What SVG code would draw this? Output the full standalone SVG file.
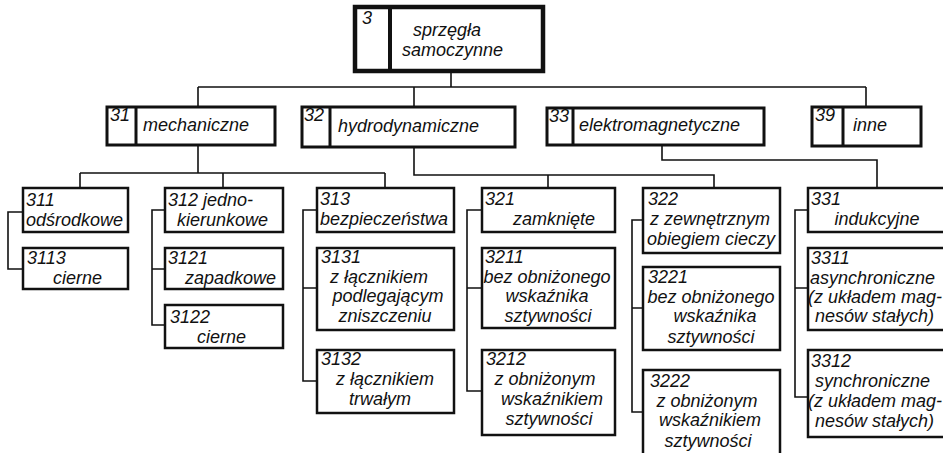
<svg xmlns="http://www.w3.org/2000/svg" width="943" height="453" viewBox="0 0 943 453">
<style>
.b{fill:#fff;stroke:#111;stroke-width:2.5}
.h{fill:#fff;stroke:#111;stroke-width:3}
.d{stroke:#111;stroke-width:3}
.c{fill:none;stroke:#111;stroke-width:1.6}
text{font-family:"Liberation Sans",Arial,sans-serif;font-style:italic;font-size:18px;fill:#111}
.m{text-anchor:middle}
</style>
<rect width="943" height="453" fill="#fff"/>
<g id="connectors">
<path class="c" d="M451,71V87M198,87H866M198,87V107M414,87V107M866,87V107"/>
<path class="c" d="M198,145V173M80,173H385M80,173V188M223,173V188M385,173V188"/>
<path class="c" d="M23,212H8V269H23"/>
<path class="c" d="M165,210H152V325H165M152,269H165"/>
<path class="c" d="M317,210H303V381H317M303,288H317"/>
<path class="c" d="M414,147V175H714V188M548,175V188"/>
<path class="c" d="M482,210H467V391H482M467,288H482"/>
<path class="c" d="M643,220H632V412H643M632,308H643"/>
<path class="c" d="M662,145V160H877V188"/>
<path class="c" d="M808,210H795V397H808M795,288H808"/>
</g>
<g id="n3">
<rect x="355" y="7" width="188" height="64" fill="#fff" stroke="#111" stroke-width="4.5"/>
<line x1="390" y1="7" x2="390" y2="71" stroke="#111" stroke-width="4"/>
<text x="362" y="24">3</text>
<text x="413" y="36">sprzęgła</text>
<text x="402" y="56">samoczynne</text>
</g>
<g id="n31">
<rect class="h" x="107" y="107" width="168" height="38"/>
<line class="d" x1="136" y1="107" x2="136" y2="145"/>
<text x="110" y="121">31</text>
<text x="143" y="131">mechaniczne</text>
</g>
<g id="n32">
<rect class="h" x="302" y="107" width="213" height="40"/>
<line class="d" x1="330" y1="107" x2="330" y2="147"/>
<text x="304" y="121">32</text>
<text x="338" y="132">hydrodynamiczne</text>
</g>
<g id="n33">
<rect class="h" x="547" y="108" width="217" height="37"/>
<line class="d" x1="573" y1="108" x2="573" y2="145"/>
<text x="549" y="122">33</text>
<text x="579" y="131">elektromagnetyczne</text>
</g>
<g id="n39">
<rect class="h" x="812" y="107" width="109" height="39"/>
<line class="d" x1="843" y1="107" x2="843" y2="146"/>
<text x="815" y="121">39</text>
<text x="853" y="131">inne</text>
</g>
<g id="n311">
<rect class="b" x="23" y="188" width="105" height="44"/>
<text x="26" y="206">311</text>
<text x="26" y="226">odśrodkowe</text>
</g>
<g id="n3113">
<rect class="b" x="23" y="248" width="105" height="41"/>
<text x="27" y="264">3113</text>
<text x="53" y="284">cierne</text>
</g>
<g id="n312">
<rect class="b" x="165" y="188" width="118" height="44"/>
<text x="168" y="206">312 jedno-</text>
<text x="177" y="226">kierunkowe</text>
</g>
<g id="n3121">
<rect class="b" x="165" y="248" width="118" height="41"/>
<text x="168" y="264">3121</text>
<text x="185" y="284">zapadkowe</text>
</g>
<g id="n3122">
<rect class="b" x="165" y="305" width="118" height="43"/>
<text x="170" y="323">3122</text>
<text x="197" y="343">cierne</text>
</g>
<g id="n313">
<rect class="b" x="317" y="188" width="137" height="44"/>
<text x="320" y="205">313</text>
<text x="320" y="225">bezpieczeństwa</text>
</g>
<g id="n3131">
<rect class="b" x="317" y="248" width="137" height="82"/>
<text x="321" y="263">3131</text>
<text class="m" x="379" y="283">z łącznikiem</text>
<text class="m" x="388" y="302">podlegającym</text>
<text class="m" x="385" y="322">zniszczeniu</text>
</g>
<g id="n3132">
<rect class="b" x="317" y="350" width="137" height="63"/>
<text x="321" y="365">3132</text>
<text class="m" x="385" y="385">z łącznikiem</text>
<text class="m" x="380" y="405">trwałym</text>
</g>
<g id="n321">
<rect class="b" x="482" y="188" width="133" height="44"/>
<text x="485" y="205">321</text>
<text class="m" x="554" y="225">zamknięte</text>
</g>
<g id="n3211">
<rect class="b" x="482" y="248" width="133" height="80"/>
<text x="485" y="263">3211</text>
<text class="m" x="547" y="283">bez obniżonego</text>
<text class="m" x="547" y="302">wskaźnika</text>
<text class="m" x="548" y="322">sztywności</text>
</g>
<g id="n3212">
<rect class="b" x="482" y="350" width="133" height="85"/>
<text x="486" y="365">3212</text>
<text class="m" x="545" y="385">z obniżonym</text>
<text class="m" x="552" y="405">wskaźnikiem</text>
<text class="m" x="549" y="425">sztywności</text>
</g>
<g id="n322">
<rect class="b" x="643" y="188" width="137" height="65"/>
<text x="648" y="205">322</text>
<text class="m" x="710" y="225">z zewnętrznym</text>
<text class="m" x="711" y="245">obiegiem cieczy</text>
</g>
<g id="n3221">
<rect class="b" x="643" y="267" width="137" height="83"/>
<text x="648" y="283">3221</text>
<text class="m" x="711" y="303">bez obniżonego</text>
<text class="m" x="715" y="322">wskaźnika</text>
<text class="m" x="711" y="343">sztywności</text>
</g>
<g id="n3222">
<rect class="b" x="643" y="370" width="137" height="86"/>
<text x="650" y="387">3222</text>
<text class="m" x="707" y="407">z obniżonym</text>
<text class="m" x="710" y="426">wskaźnikiem</text>
<text class="m" x="708" y="447">sztywności</text>
</g>
<g id="n331">
<rect class="b" x="808" y="188" width="140" height="44"/>
<text x="811" y="205">331</text>
<text class="m" x="877" y="225">indukcyjne</text>
</g>
<g id="n3311">
<rect class="b" x="808" y="248" width="140" height="82"/>
<text x="811" y="264">3311</text>
<text x="810" y="284">asynchroniczne</text>
<text x="808" y="303">(z układem mag-</text>
<text x="815" y="322">nesów stałych)</text>
</g>
<g id="n3312">
<rect class="b" x="808" y="350" width="140" height="87"/>
<text x="811" y="367">3312</text>
<text x="815" y="387">synchroniczne</text>
<text x="808" y="407">(z układem mag-</text>
<text x="815" y="427">nesów stałych)</text>
</g>
</svg>
